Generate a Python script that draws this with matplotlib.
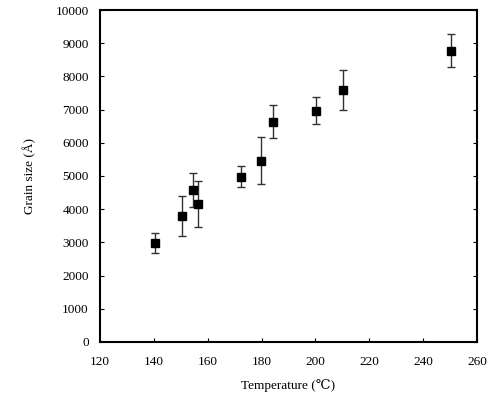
import numpy as np
import matplotlib.pyplot as plt

# data
temp = [140.4, 150.3, 154.5, 156.3, 172.4, 179.7, 184.1, 200.2, 210.4, 250.2]
grain = [2970, 3800, 4580, 4150, 4980, 5460, 6640, 6970, 7580, 8780]
err = [300, 600, 500, 700, 320, 700, 500, 400, 600, 500]

plt.rcParams['font.family'] = ['Liberation Serif', 'DejaVu Serif']

fig = plt.figure(figsize=(4.91, 4.05), dpi=100)
ax = fig.add_axes([0.2037, 0.1556, 0.7678, 0.8197])

ax.errorbar(temp, grain, yerr=err, fmt='s', color='black', ms=6,
            ecolor='#333333', elinewidth=1, capsize=3, capthick=1)

ax.set_xlim(120, 260)
ax.set_ylim(0, 10000)
ax.set_xticks(np.arange(120, 261, 20))
ax.set_yticks(np.arange(0, 10001, 1000))
ax.tick_params(direction='in', length=3, labelsize=9.5, right=True)
ax.tick_params(axis='x', pad=10)
ax.tick_params(axis='y', pad=8)
for s in ax.spines.values():
    s.set_linewidth(1.5)

ax.set_xlabel('Temperature (℃)', fontsize=9.5, labelpad=8)
ax.set_ylabel('Grain size (Å)', fontsize=9.5, labelpad=14)

fig.savefig('out.png', dpi=100)
